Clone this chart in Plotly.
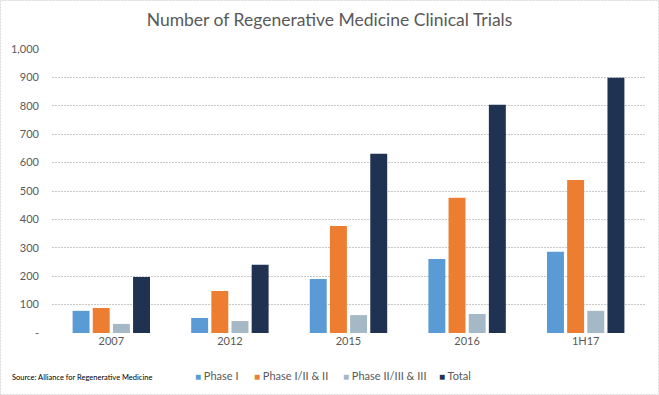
import plotly.graph_objects as go

categories = ["2007", "2012", "2015", "2016", "1H17"]
phase1 = [78, 53, 190, 261, 286]
phase12 = [88, 148, 377, 476, 539]
phase23 = [32, 42, 63, 67, 78]
total = [197, 240, 631, 804, 899]
series_names = ["Phase I", "Phase I/II & II", "Phase II/III & III", "Total"]
colors = ["#5B9BD5", "#ED7D31", "#A5B8C5", "#1F3251"]
tick_vals = [0, 100, 200, 300, 400, 500, 600, 700, 800, 900, 1000]
tick_text = ["-", "100", "200", "300", "400", "500", "600", "700", "800", "900", "1,000"]

W, H = 659, 395
ml, mr, mt, mb = 52, 14, 49, 62
pw, ph = W - ml - mr, H - mt - mb

def px_x(p):
    return (p - ml) / pw

def px_y(p):
    return (mt + ph - p) / ph

fig = go.Figure()
for name, vals, c in zip(series_names, [phase1, phase12, phase23, total], colors):
    fig.add_trace(go.Bar(x=categories, y=vals, name=name, marker_color=c,
                         marker_line_width=0, showlegend=False))

# legend drawn as text entries (compact Excel-like legend)
legend_x = [193, 252, 341, 437]
annotations = []
for name, c, lx in zip(series_names, colors, legend_x):
    annotations.append(dict(
        text=f"<span style='color:{c};font-size:10px'>■</span> {name}",
        xref="paper", yref="paper", x=px_x(lx), xanchor="left", y=px_y(375), yanchor="middle",
        showarrow=False, font=dict(size=11, color="#595959")))
annotations.append(dict(text="Source: Alliance for Regenerative Medicine", xref="paper", yref="paper",
                        x=px_x(10), xanchor="left", y=px_y(377), yanchor="middle",
                        showarrow=False, font=dict(size=7.5, color="#000000")))

fig.update_layout(
    width=W, height=H,
    margin=dict(l=ml, r=mr, t=mt, b=mb, autoexpand=False),
    paper_bgcolor="white", plot_bgcolor="white",
    font=dict(family="Lato, Liberation Sans, sans-serif", color="#595959", size=11),
    title=dict(text="Number of Regenerative Medicine Clinical Trials", x=0.5, xanchor="center",
               y=1 - 20 / H, yanchor="middle", font=dict(size=17.5, color="#595959")),
    barmode="group", bargap=0.32, bargroupgap=0.16,
    showlegend=False,
    xaxis=dict(showgrid=False, showline=False, ticks="", automargin=False,
               tickfont=dict(size=11, color="#595959")),
    yaxis=dict(range=[0, 1000], tickvals=tick_vals, ticktext=tick_text, showgrid=True,
               gridcolor="#C8C8C8", griddash="2px,1px", gridwidth=1, zeroline=False,
               showline=False, ticks="",
               automargin=False, ticklabelstandoff=12, tickfont=dict(size=11, color="#595959")),
    shapes=[dict(type="rect", xref="paper", yref="paper",
                 x0=px_x(0.5), x1=px_x(W - 0.5), y0=px_y(H - 0.5), y1=px_y(0.5),
                 line=dict(color="#D9D9D9", width=1, dash="2px,1px"))],
    annotations=annotations,
)

fig.write_html("out.html", post_script="document.body.style.margin='0px';",
               config={"displayModeBar": False})
